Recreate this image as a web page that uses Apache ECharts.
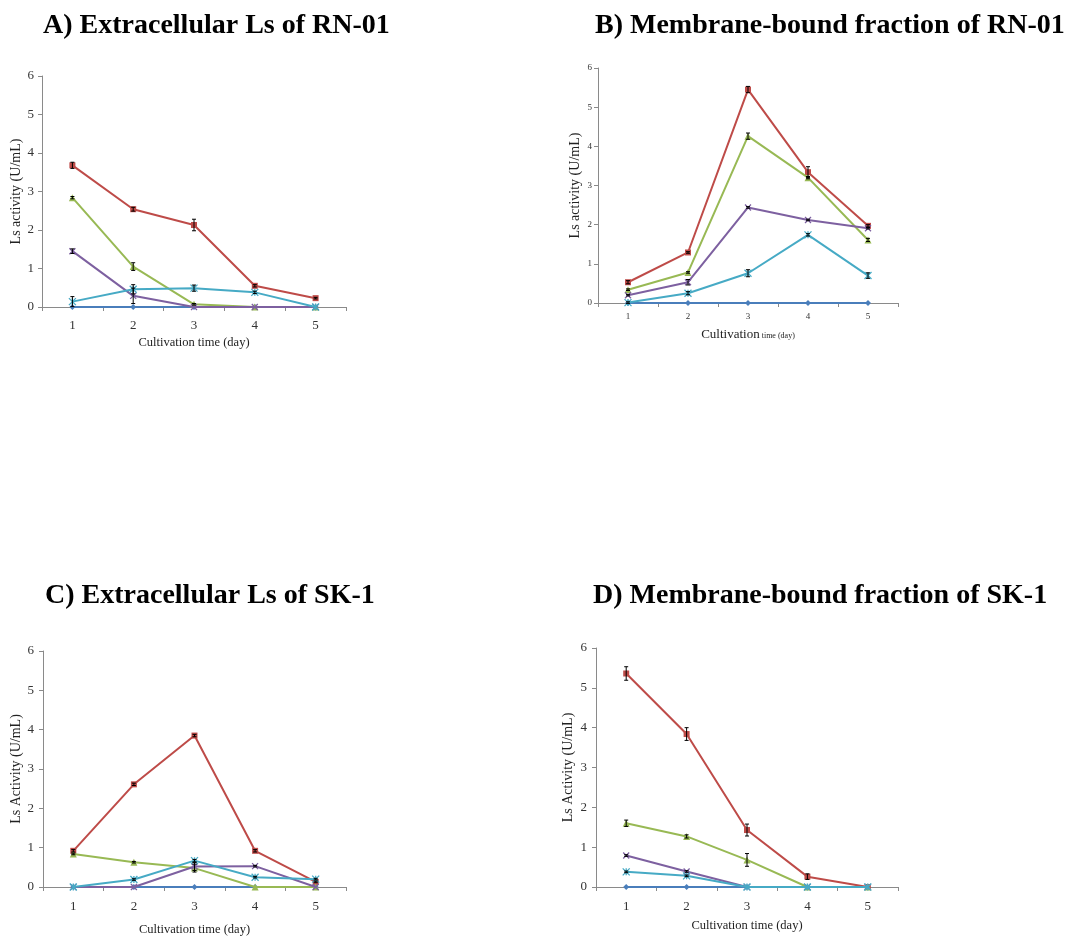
<!DOCTYPE html>
<html><head><meta charset="utf-8">
<script src="https://cdn.jsdelivr.net/npm/echarts@6/dist/echarts.min.js"></script>
<style>html,body{margin:0;padding:0;background:#fff}#c{width:1089px;height:937px}</style>
</head><body><div id="c"></div>
<script>
// ---- data ----
const days = ['1', '2', '3', '4', '5'];
const yTicks = [0, 1, 2, 3, 4, 5, 6];
const seriesNames = ['Series 1', 'Series 2', 'Series 3', 'Series 4', 'Series 5'];

// A) Extracellular Ls of RN-01
const aBlue   = [0, 0, 0, 0, 0];
const aRed    = [3.68, 2.54, 2.13, 0.55, 0.23];
const aGreen  = [2.84, 1.05, 0.07, 0, 0];
const aPurple = [1.45, 0.29, 0, 0, 0];
const aCyan   = [0.14, 0.46, 0.49, 0.38, 0];
const aRedErr    = [0.08, 0.05, 0.15, 0.03, 0.02];
const aGreenErr  = [0.03, 0.1, 0.02, 0, 0];
const aPurpleErr = [0.06, 0.2, 0, 0, 0];
const aCyanErr   = [0.13, 0.12, 0.08, 0.03, 0];

// B) Membrane-bound fraction of RN-01
const bBlue   = [0, 0, 0, 0, 0];
const bRed    = [0.53, 1.29, 5.45, 3.34, 1.97];
const bGreen  = [0.34, 0.78, 4.26, 3.2, 1.61];
const bPurple = [0.2, 0.53, 2.44, 2.12, 1.91];
const bCyan   = [0.01, 0.25, 0.76, 1.74, 0.7];
const bRedErr    = [0.04, 0.02, 0.08, 0.14, 0.03];
const bGreenErr  = [0.02, 0.02, 0.08, 0.03, 0.04];
const bPurpleErr = [0.02, 0.07, 0.02, 0.02, 0.02];
const bCyanErr   = [0.02, 0.04, 0.09, 0.03, 0.07];

// C) Extracellular Ls of SK-1
const cBlue   = [0, 0, 0, 0, 0];
const cRed    = [0.92, 2.61, 3.85, 0.92, 0.13];
const cGreen  = [0.84, 0.63, 0.48, 0, 0];
const cPurple = [0, 0, 0.52, 0.53, 0];
const cCyan   = [0, 0.19, 0.67, 0.25, 0.2];
const cRedErr    = [0.03, 0.03, 0.03, 0.03, 0.02];
const cGreenErr  = [0.02, 0.02, 0.1, 0, 0];
const cPurpleErr = [0, 0, 0.1, 0.02, 0];
const cCyanErr   = [0, 0.02, 0.03, 0.02, 0.02];

// D) Membrane-bound fraction of SK-1
const dBlue   = [0, 0, 0, 0, 0];
const dRed    = [5.36, 3.84, 1.43, 0.26, 0];
const dGreen  = [1.6, 1.27, 0.68, 0, 0];
const dPurple = [0.79, 0.39, 0, 0, 0];
const dCyan   = [0.38, 0.28, 0, 0, 0];
const dRedErr    = [0.17, 0.16, 0.15, 0.07, 0];
const dGreenErr  = [0.08, 0.04, 0.16, 0, 0];
const dPurpleErr = [0.02, 0.02, 0, 0, 0];
const dCyanErr   = [0.02, 0.02, 0, 0, 0];

const titles = [
  'A) Extracellular Ls of RN-01',
  'B) Membrane-bound fraction of RN-01',
  'C) Extracellular Ls of SK-1',
  'D) Membrane-bound fraction of SK-1'
];
const yNames = ['Ls activity (U/mL)', 'Ls activity (U/mL)', 'Ls Activity (U/mL)', 'Ls Activity (U/mL)'];

// ---- styling / layout ----
const colors = ['#4A7EBB', '#BE4B48', '#98B954', '#7D60A0', '#46AAC5'];
const symbols = [
  'diamond', 'rect', 'triangle',
  'path://M0,0L10,10M10,0L0,10',
  'path://M0,0L10,10M10,0L0,10M5,0L5,10'
];
const symSizes = [6, 6, 7, 6, 7];
const FONT = '"Liberation Serif","Times New Roman",serif';

const panels = [
  { vals: [aBlue, aRed, aGreen, aPurple, aCyan], errs: [null, aRedErr, aGreenErr, aPurpleErr, aCyanErr],
    grid: { left: 42, top: 76, width: 304, height: 231 },
    title: { left: 38, top: 7 },
    yLabel: { size: 13, margin: 8 }, xLabel: { size: 13, margin: 12 },
    yName: { size: 14, gap: 18 }, xName: { gap: 29 } },
  { vals: [bBlue, bRed, bGreen, bPurple, bCyan], errs: [null, bRedErr, bGreenErr, bPurpleErr, bCyanErr],
    grid: { left: 598, top: 68, width: 300, height: 235 },
    title: { left: 590, top: 7 },
    yLabel: { size: 9, margin: 6 }, xLabel: { size: 9, margin: 9 },
    yName: { size: 14, gap: 16 }, xName: { gap: 25 } },
  { vals: [cBlue, cRed, cGreen, cPurple, cCyan], errs: [null, cRedErr, cGreenErr, cPurpleErr, cCyanErr],
    grid: { left: 43, top: 651, width: 303, height: 236 },
    title: { left: 40, top: 577 },
    yLabel: { size: 13, margin: 9 }, xLabel: { size: 13, margin: 13 },
    yName: { size: 14, gap: 18 }, xName: { gap: 36 } },
  { vals: [dBlue, dRed, dGreen, dPurple, dCyan], errs: [null, dRedErr, dGreenErr, dPurpleErr, dCyanErr],
    grid: { left: 596, top: 648, width: 302, height: 239 },
    title: { left: 588, top: 577 },
    yLabel: { size: 13, margin: 9 }, xLabel: { size: 13, margin: 13 },
    yName: { size: 14, gap: 21 }, xName: { gap: 32 } }
];

const axisGray = '#8A8A8A';
const option = { animation: false, backgroundColor: '#fff', title: [], grid: [], xAxis: [], yAxis: [], series: [] };

panels.forEach((p, i) => {
  option.title.push({
    text: titles[i], left: p.title.left, top: p.title.top,
    textStyle: { fontFamily: FONT, fontWeight: 'bold', fontSize: 28, color: '#000' }
  });
  option.grid.push(p.grid);
  const xName = i === 1
    ? '{a|Cultivation}{b| time (day)}'
    : 'Cultivation time (day)';
  option.xAxis.push({
    type: 'category', gridIndex: i, data: days, boundaryGap: true,
    name: xName, nameLocation: 'middle', nameGap: p.xName.gap,
    nameTextStyle: i === 1
      ? { fontFamily: FONT, color: '#222', rich: {
          a: { fontFamily: FONT, fontSize: 13, color: '#222', verticalAlign: 'bottom' },
          b: { fontFamily: FONT, fontSize: 8, color: '#222', verticalAlign: 'bottom', padding: [0, 0, 1, 0] } } }
      : { fontFamily: FONT, fontSize: 12.5, color: '#222' },
    axisLine: { lineStyle: { color: axisGray, width: 1 } },
    axisTick: { show: true, alignWithLabel: false, length: 4, lineStyle: { color: axisGray } },
    axisLabel: { fontFamily: FONT, fontSize: p.xLabel.size, color: '#333', margin: p.xLabel.margin },
    splitLine: { show: false }
  });
  option.yAxis.push({
    type: 'value', gridIndex: i, min: yTicks[0], max: yTicks[yTicks.length - 1], interval: 1,
    name: yNames[i], nameLocation: 'middle', nameGap: p.yName.gap, nameRotate: 90,
    nameTextStyle: { fontFamily: FONT, fontSize: p.yName.size, color: '#222' },
    axisLine: { show: true, lineStyle: { color: axisGray, width: 1 } },
    axisTick: { show: true, length: 4, lineStyle: { color: axisGray } },
    axisLabel: { fontFamily: FONT, fontSize: p.yLabel.size, color: '#333', margin: p.yLabel.margin },
    splitLine: { show: false }
  });
  p.vals.forEach((vals, s) => {
    option.series.push({
      type: 'line', name: seriesNames[s], xAxisIndex: i, yAxisIndex: i,
      data: vals, symbol: symbols[s], symbolSize: symSizes[s],
      lineStyle: { color: colors[s], width: 2 },
      itemStyle: { color: colors[s], borderColor: colors[s], borderWidth: s >= 3 ? 1.3 : 0 },
      z: 2 + s
    });
  });
  p.vals.forEach((vals, s) => {
    const errs = p.errs[s];
    if (!errs) return;
    const ed = [];
    vals.forEach((v, k) => { if (errs[k] > 0) ed.push([k, v, errs[k]]); });
    option.series.push({
      type: 'custom', xAxisIndex: i, yAxisIndex: i, data: ed, z: 10,
      renderItem: (params, api) => {
        const x = api.value(0), v = api.value(1), e = api.value(2);
        const hi = api.coord([x, v + e]);
        const lo = api.coord([x, v - e]);
        const w = 2;
        return { type: 'group', children: [
          { type: 'line', shape: { x1: hi[0], y1: hi[1], x2: lo[0], y2: lo[1] }, style: { stroke: '#000', lineWidth: 1 } },
          { type: 'line', shape: { x1: hi[0] - w, y1: hi[1], x2: hi[0] + w, y2: hi[1] }, style: { stroke: '#000', lineWidth: 1 } },
          { type: 'line', shape: { x1: lo[0] - w, y1: lo[1], x2: lo[0] + w, y2: lo[1] }, style: { stroke: '#000', lineWidth: 1 } }
        ] };
      }
    });
  });
});

const chart = echarts.init(document.getElementById('c'), null, { renderer: 'canvas' });
chart.setOption(option);
</script>
</body></html>
